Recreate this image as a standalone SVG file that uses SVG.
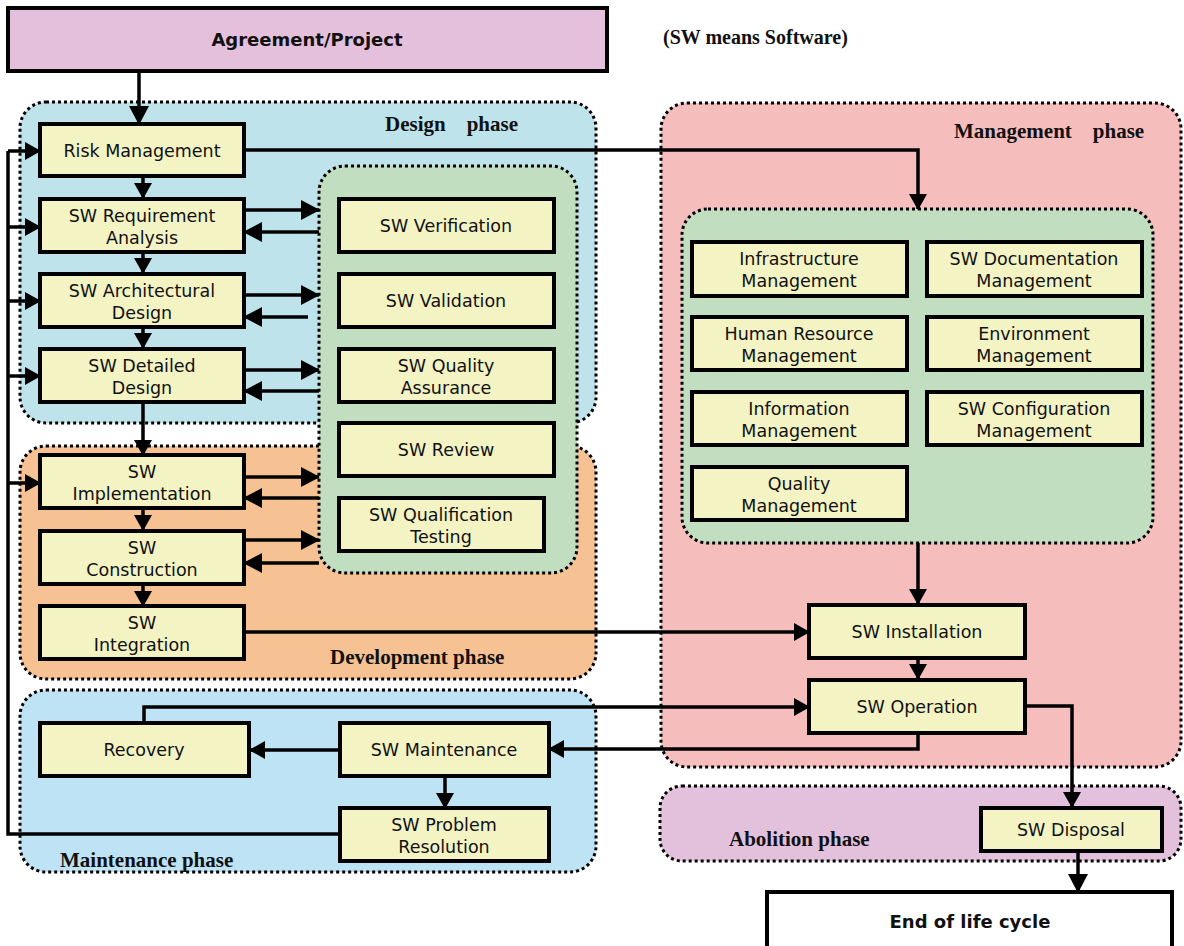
<svg xmlns="http://www.w3.org/2000/svg" width="1184" height="946" viewBox="0 0 1184 946">
<defs>
<style>
.node{fill:#f3f3c4;stroke:#000;stroke-width:4}
.nt{font-family:"DejaVu Sans",Verdana,sans-serif;font-size:17.5px;fill:#111;text-anchor:middle}
.bt{font-family:"DejaVu Sans",Verdana,sans-serif;font-size:18px;font-weight:bold;fill:#111;text-anchor:middle}
.ph{font-family:"Liberation Serif","Times New Roman",serif;font-size:21px;font-weight:bold;fill:#111;white-space:pre}
.grp{stroke:#000;stroke-width:3;stroke-dasharray:3 3}
.ln{fill:none;stroke:#000;stroke-width:3.5}
.ar{fill:none;stroke:#000;stroke-width:3.5;marker-end:url(#ah)}
.ab{fill:none;stroke:#000;stroke-width:3.5;marker-end:url(#ahb)}
</style>
<marker id="ah" markerWidth="16" markerHeight="18" refX="15" refY="9" orient="auto" markerUnits="userSpaceOnUse"><path d="M0,0 L16,9 L0,18 z" fill="#000"/></marker>
<marker id="ahb" markerWidth="19" markerHeight="20" refX="18" refY="10" orient="auto" markerUnits="userSpaceOnUse"><path d="M0,0 L19,10 L0,20 z" fill="#000"/></marker>
</defs>
<rect width="1184" height="946" fill="#fff"/>

<g id="containers">
<rect id="design-phase" class="grp" x="20" y="102" width="576" height="321" rx="26" fill="#bee3ea"/>
<rect id="development-phase" class="grp" x="20" y="446" width="576" height="233" rx="26" fill="#f6c193"/>
<rect id="maintenance-phase" class="grp" x="20" y="690" width="576" height="182" rx="26" fill="#bde3f5"/>
<rect id="management-phase" class="grp" x="661" y="103" width="520" height="664" rx="26" fill="#f6bdbd"/>
<rect id="abolition-phase" class="grp" x="660" y="786" width="521" height="75" rx="22" fill="#e3c1dc"/>
<rect id="vv-group" class="grp" x="319" y="166" width="258" height="407" rx="26" fill="#c1dfc0"/>
<rect id="mgmt-group" class="grp" x="682" y="209" width="471" height="334" rx="26" fill="#c1dfc0"/>
<text class="ph" x="385" y="131">Design    phase</text>
<text class="ph" x="330" y="664">Development phase</text>
<text class="ph" x="60" y="867">Maintenance phase</text>
<text class="ph" x="954" y="138">Management    phase</text>
<text class="ph" x="729" y="846">Abolition phase</text>
</g>

<text class="ph" x="663" y="44" style="font-size:20px">(SW means Software)</text>

<g id="connectors">
<path class="ab" d="M139,71 V124"/>
<path class="ar" d="M244,150 H918 V209"/>
<path class="ar" d="M143,176 V198"/>
<path class="ar" d="M143,252 V273"/>
<path class="ar" d="M143,327 V348"/>
<path class="ar" d="M143,402 V455"/>
<path class="ar" d="M143,508 V530"/>
<path class="ar" d="M143,584 V606"/>
<path class="ln" d="M340,834 H8 V151"/>
<path class="ar" d="M8,151 H40"/>
<path class="ar" d="M8,227 H40"/>
<path class="ar" d="M8,301 H40"/>
<path class="ar" d="M8,376 H40"/>
<path class="ar" d="M8,483 H40"/>
<path class="ab" d="M244,210 H319"/>
<path class="ab" d="M319,232 H244"/>
<path class="ab" d="M244,295 H319"/>
<path class="ab" d="M308,317 H244"/>
<path class="ab" d="M244,370 H319"/>
<path class="ab" d="M319,391 H244"/>
<path class="ab" d="M244,477 H319"/>
<path class="ab" d="M319,498 H244"/>
<path class="ab" d="M244,540 H319"/>
<path class="ab" d="M319,563 H244"/>
<path class="ar" d="M244,632 H809"/>
<path class="ar" d="M918,543 V604"/>
<path class="ar" d="M918,658 V679"/>
<path class="ar" d="M144,722 V707 H809"/>
<path class="ar" d="M918,733 V749 H549"/>
<path class="ar" d="M339,750 H250"/>
<path class="ar" d="M445,777 V808"/>
<path class="ar" d="M1025,706 H1072 V807"/>
<path class="ab" d="M1078,851 V892"/>
</g>

<g id="agreement"><rect x="8" y="8" width="599" height="63" fill="#e4c0dc" stroke="#000" stroke-width="4"/><text class="bt" x="307" y="46">Agreement/Project</text></g>
<g id="end-of-life"><rect x="767" y="892" width="405" height="60" fill="#fff" stroke="#000" stroke-width="4"/><text class="bt" x="970" y="928">End of life cycle</text></g>

<g id="risk-management"><rect class="node" x="40" y="124" width="204" height="52"/><text class="nt" x="142" y="157">Risk Management</text></g>
<g id="sw-requirement-analysis"><rect class="node" x="40" y="199" width="204" height="53"/><text class="nt" x="142" y="222">SW Requirement</text><text class="nt" x="142" y="244">Analysis</text></g>
<g id="sw-architectural-design"><rect class="node" x="40" y="274" width="204" height="53"/><text class="nt" x="142" y="297">SW Architectural</text><text class="nt" x="142" y="319">Design</text></g>
<g id="sw-detailed-design"><rect class="node" x="40" y="349" width="204" height="53"/><text class="nt" x="142" y="372">SW Detailed</text><text class="nt" x="142" y="394">Design</text></g>
<g id="sw-implementation"><rect class="node" x="40" y="455" width="204" height="53"/><text class="nt" x="142" y="478">SW</text><text class="nt" x="142" y="500">Implementation</text></g>
<g id="sw-construction"><rect class="node" x="40" y="531" width="204" height="53"/><text class="nt" x="142" y="554">SW</text><text class="nt" x="142" y="576">Construction</text></g>
<g id="sw-integration"><rect class="node" x="40" y="606" width="204" height="53"/><text class="nt" x="142" y="629">SW</text><text class="nt" x="142" y="651">Integration</text></g>

<g id="sw-verification"><rect class="node" x="339" y="199" width="215" height="53"/><text class="nt" x="446" y="232">SW Verification</text></g>
<g id="sw-validation"><rect class="node" x="339" y="274" width="215" height="53"/><text class="nt" x="446" y="307">SW Validation</text></g>
<g id="sw-quality-assurance"><rect class="node" x="339" y="349" width="215" height="53"/><text class="nt" x="446" y="372">SW Quality</text><text class="nt" x="446" y="394">Assurance</text></g>
<g id="sw-review"><rect class="node" x="339" y="423" width="215" height="53"/><text class="nt" x="446" y="456">SW Review</text></g>
<g id="sw-qualification-testing"><rect class="node" x="339" y="498" width="205" height="53"/><text class="nt" x="441" y="521">SW Qualification</text><text class="nt" x="441" y="543">Testing</text></g>

<g id="infrastructure-management"><rect class="node" x="692" y="242" width="215" height="54"/><text class="nt" x="799" y="265">Infrastructure</text><text class="nt" x="799" y="287">Management</text></g>
<g id="sw-documentation-management"><rect class="node" x="927" y="242" width="215" height="54"/><text class="nt" x="1034" y="265">SW Documentation</text><text class="nt" x="1034" y="287">Management</text></g>
<g id="human-resource-management"><rect class="node" x="692" y="317" width="215" height="53"/><text class="nt" x="799" y="340">Human Resource</text><text class="nt" x="799" y="362">Management</text></g>
<g id="environment-management"><rect class="node" x="927" y="317" width="215" height="53"/><text class="nt" x="1034" y="340">Environment</text><text class="nt" x="1034" y="362">Management</text></g>
<g id="information-management"><rect class="node" x="692" y="392" width="215" height="53"/><text class="nt" x="799" y="415">Information</text><text class="nt" x="799" y="437">Management</text></g>
<g id="sw-configuration-management"><rect class="node" x="927" y="392" width="215" height="53"/><text class="nt" x="1034" y="415">SW Configuration</text><text class="nt" x="1034" y="437">Management</text></g>
<g id="quality-management"><rect class="node" x="692" y="467" width="215" height="53"/><text class="nt" x="799" y="490">Quality</text><text class="nt" x="799" y="512">Management</text></g>

<g id="sw-installation"><rect class="node" x="809" y="605" width="216" height="53"/><text class="nt" x="917" y="638">SW Installation</text></g>
<g id="sw-operation"><rect class="node" x="809" y="680" width="216" height="53"/><text class="nt" x="917" y="713">SW Operation</text></g>

<g id="recovery"><rect class="node" x="40" y="723" width="209" height="53"/><text class="nt" x="144" y="756">Recovery</text></g>
<g id="sw-maintenance"><rect class="node" x="340" y="723" width="209" height="53"/><text class="nt" x="444" y="756">SW Maintenance</text></g>
<g id="sw-problem-resolution"><rect class="node" x="340" y="808" width="209" height="53"/><text class="nt" x="444" y="831">SW Problem</text><text class="nt" x="444" y="853">Resolution</text></g>

<g id="sw-disposal"><rect class="node" x="981" y="808" width="181" height="43"/><text class="nt" x="1071" y="836">SW Disposal</text></g>
</svg>
